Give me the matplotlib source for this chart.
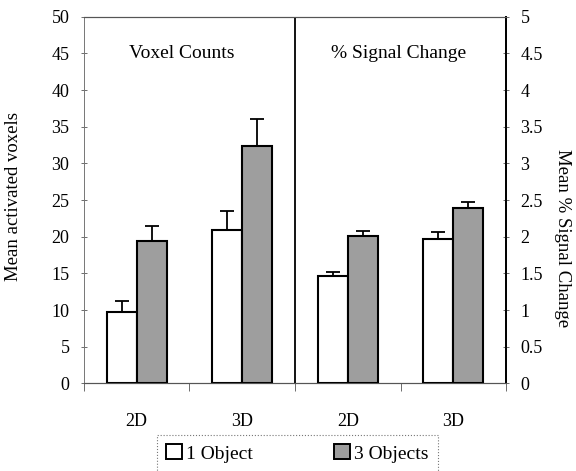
import matplotlib
matplotlib.use("Agg")
import matplotlib.pyplot as plt
import numpy as np
from matplotlib.patches import Patch

plt.rcParams['font.family'] = ['Liberation Serif', 'DejaVu Serif']

categories = ["2D", "3D", "2D", "3D"]
series = ["1 Object", "3 Objects"]
# Voxel counts (left axis)
vox_one = [9.8, 20.9]
vox_one_err = [1.4, 2.6]
vox_three = [19.4, 32.4]
vox_three_err = [2.0, 3.7]
# % signal change (right axis)
sig_one = [1.46, 1.97]
sig_one_err = [0.06, 0.09]
sig_three = [2.01, 2.39]
sig_three_err = [0.07, 0.09]

left_ticks = list(range(0, 51, 5))
right_ticks = [0, 0.5, 1, 1.5, 2, 2.5, 3, 3.5, 4, 4.5, 5]
right_ticklabels = ["0", "0.5", "1", "1.5", "2", "2.5", "3", "3.5", "4", "4.5", "5"]

gray = "#9e9e9e"
fs = 13

fig = plt.figure(figsize=(5.76, 4.71), dpi=100)
ax = fig.add_axes([0.1458, 0.186, 0.7327, 0.7786])
ax2 = ax.twinx()

w = 0.284
x_left = np.array([0.5, 1.5])
x_right = np.array([2.5, 3.5])
ekw = dict(elinewidth=1.3, capsize=5, capthick=1.3, ecolor="black")

ax.bar(x_left - w/2, vox_one, w, color="white", edgecolor="black", linewidth=1.5,
       yerr=[np.zeros(2), vox_one_err], error_kw=ekw, zorder=3)
ax.bar(x_left + w/2, vox_three, w, color=gray, edgecolor="black", linewidth=1.5,
       yerr=[np.zeros(2), vox_three_err], error_kw=ekw, zorder=3)
ax2.bar(x_right - w/2, sig_one, w, color="white", edgecolor="black", linewidth=1.5,
        yerr=[np.zeros(2), sig_one_err], error_kw=ekw, zorder=3)
ax2.bar(x_right + w/2, sig_three, w, color=gray, edgecolor="black", linewidth=1.5,
        yerr=[np.zeros(2), sig_three_err], error_kw=ekw, zorder=3)

ax.set_xlim(0, 4)
ax.set_ylim(0, 50)
ax2.set_ylim(0, 5)
ax.set_yticks(left_ticks)
ax.set_yticklabels([str(t) for t in left_ticks], fontsize=fs)
ax2.set_yticks(right_ticks)
ax2.set_yticklabels(right_ticklabels, fontsize=fs)

ax.set_xticks([0.5, 1.5, 2.5, 3.5])
ax.set_xticklabels(categories, fontsize=fs)
ax.set_xticks([0, 1, 2, 3, 4], minor=True)
ax.tick_params(axis='x', which='major', length=0, pad=21)
ax.tick_params(axis='x', which='minor', length=6, width=0.6, color="#555555")
ax.tick_params(axis='y', direction='inout', length=5, width=0.6, color="#555555", pad=8)
ax2.tick_params(axis='y', direction='inout', length=5, width=0.6, color="#555555", pad=8)

for a in (ax, ax2):
    a.spines['top'].set_linestyle((0, (2, 1)))
    a.spines['top'].set_linewidth(0.8)
    a.spines['top'].set_color("#555555")
    a.spines['left'].set_linewidth(0.6)
    a.spines['left'].set_color("#777777")
    a.spines['bottom'].set_linewidth(0.8)
    a.spines['bottom'].set_color("#555555")
    a.spines['right'].set_linewidth(1.3)
    a.spines['right'].set_color("black")

ax.axvline(2, color="black", linewidth=1.3, zorder=4)

ax.set_ylabel("Mean activated voxels", fontsize=13.5)
ax.yaxis.set_label_coords(-0.147, 0.51)
ax2.set_ylabel("Mean % Signal Change", fontsize=13.5, rotation=-90, va="center")
ax2.yaxis.set_label_coords(1.133, 0.396)

ax.text(0.93, 45, "Voxel Counts", fontsize=14, ha="center", va="center")
ax.text(2.98, 45, "% Signal Change", fontsize=14, ha="center", va="center")

handles = [Patch(facecolor="white", edgecolor="black", linewidth=1.4),
           Patch(facecolor=gray, edgecolor="black", linewidth=1.4)]
leg = fig.legend(handles, series, loc="upper center", bbox_to_anchor=(0.516, 0.077),
                 ncol=2, fontsize=14, frameon=True, fancybox=False,
                 handlelength=0.8, handleheight=0.8, handletextpad=0.2,
                 columnspacing=4.2, borderpad=0.5, borderaxespad=0)
frame = leg.get_frame()
frame.set_linestyle(":")
frame.set_edgecolor("#555555")
frame.set_linewidth(0.8)

fig.savefig("out.png", dpi=100)
